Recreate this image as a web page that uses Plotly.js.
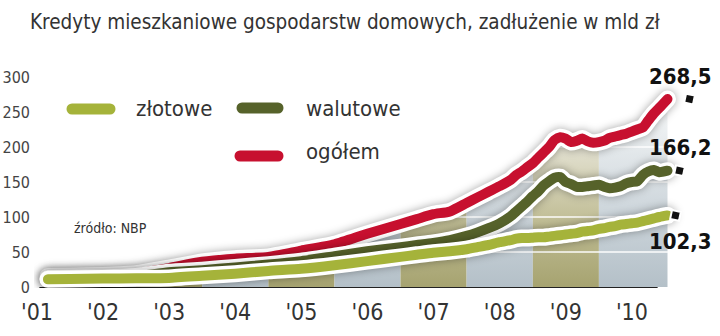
<!DOCTYPE html>
<html><head><meta charset="utf-8">
<script src="https://cdn.plot.ly/plotly-3.0.1.min.js"></script>
<style>
html,body{margin:0;padding:0;background:#fff;}
#chart{width:720px;height:336px;}
svg text{font-stretch:condensed !important;}
.scatterlayer .js-line{stroke-linecap:round;stroke-linejoin:round;}
.shapelayer path{stroke-linecap:round;}
</style></head><body><div id="chart"></div>
<script>
// ---- data ----
const dates = ['2001-09','2002-01','2002-07','2003-01','2003-07','2004-01','2004-07','2005-01','2005-07','2006-01','2006-07','2007-01','2007-04','2007-07','2007-10','2008-01','2008-03','2008-05','2008-07','2008-09','2008-10','2008-11','2008-12','2009-01','2009-02','2009-03','2009-04','2009-05','2009-06','2009-07','2009-08','2009-09','2009-10','2009-11','2009-12','2010-01','2010-02','2010-03','2010-04','2010-05','2010-06','2010-07','2010-08','2010-09','2010-10','2010-11','2010-12','2011-01-15'];
const zlotowe  = [11,11.5,12,12.5,13,16,19,23,26,31,37,43,46,49,51,54,57,60,64,67,69,70,70,70.5,71,71,72,73,74,75,76,77,79,80,81,83,84,86,87,89,90,91,92,94,96,98,100,102.3];
const walutowe = [12,12.5,13,15,21,24,28,32,37,44,51,57,60,63,67,73,78,84,91,101,108,115,122,130,137,145,151,156,157,150,147,143,143,144,145,146,143,141,142,144,148,150,151,160,165,167,164,166.2];
const ogolem   = [15,15.5,16.5,19,27,36,40.5,43,52,61,76,90,97,104,108,120,128,136,144,153,160,165,171,177,185,192,200,210,214,212,207,209,212,208,206,207,209,213,215,217,219,222,225,228,238,248,256,268.5];
const seriesNames = ['złotowe','walutowe','ogółem'];
const years = [2001,2002,2003,2004,2005,2006,2007,2008,2009,2010];
const xTickText = years.map(y => "'" + String(y).slice(2));
const yTickVals = [0,50,100,150,200,250,300];
const titleText = 'Kredyty mieszkaniowe gospodarstw domowych, zadłużenie w mld zł';
const sourceText = 'źródło: NBP';

// ---- styles / geometry ----
const FONT = '"Liberation Sans Narrow", "DejaVu Sans Condensed", "Noto Sans", sans-serif';
const colors = {zl:'#a5b33a', wa:'#56622a', og:'#c7102f'};
const L=34, R=700, T=63, B=288, W=R-L, H=B-T;
const pxPerYear = 66.1, px0 = 37, t0 = 2001.5;
const px2x = p => (p-L)/W;
const py2y = p => (B-p)/H;
function ms(d){ return Date.parse(d.length===7 ? d+'-01T00:00:00Z' : d+'T00:00:00Z'); }
function decToDate(d){ const y=Math.floor(d); const a=Date.UTC(y,0,1), b=Date.UTC(y+1,0,1);
  return new Date(a+(d-y)*(b-a)).toISOString().slice(0,19).replace('T',' '); }
function msToStr(m){ return new Date(m).toISOString().slice(0,19).replace('T',' '); }
const xRange = [decToDate(t0+(L-px0)/pxPerYear), decToDate(t0+(R-px0)/pxPerYear)];
const yRange = [-(288-287)/0.7, 320];

const traces = [];
const olive = [[0,'rgb(166,163,112)'],[0.35,'rgb(193,190,150)'],[0.7,'rgb(224,222,204)'],[1,'rgb(250,250,247)']];
const grey  = [[0,'rgb(180,192,200)'],[0.35,'rgb(202,211,217)'],[0.7,'rgb(226,231,234)'],[1,'rgb(250,251,251)']];
years.forEach((y,k) => {
  const s = ms(`${y}-01`), e = (k===years.length-1) ? ms(dates[dates.length-1]) : ms(`${y+1}-01`);
  const xs=[], ys=[];
  dates.forEach((d,i) => { const m=ms(d); if (m>=s && m<=e) { xs.push(d.length===7?d+'-01':d); ys.push(ogolem[i]); } });
  traces.push({x:xs, y:ys, mode:'lines', line:{width:0}, fill:'tozeroy',
    fillgradient:{type:'vertical', start:0, stop:272, colorscale: (y%2===1)?olive:grey},
    hoverinfo:'skip', showlegend:false});
});
yTickVals.filter(v => v>0 && v<300).forEach(v => {
  traces.push({x:[dates[0], dates[dates.length-1]], y:[v,v], mode:'lines',
    line:{color:'rgba(255,255,255,0.95)', width:1.3}, hoverinfo:'skip', showlegend:false});
});
const series = [[ogolem, colors.og, 'ogółem'], [walutowe, colors.wa, 'walutowe'], [zlotowe, colors.zl, 'złotowe']];
const xd = dates.map(d => d.length===7 ? d+'-01' : d);
series.forEach(([vals, col, nm]) => {
  traces.push({x:xd, y:vals, mode:'lines', line:{color:'#ffffff', width:17, shape:'spline', smoothing:0.6}, hoverinfo:'skip', showlegend:false});
  traces.push({x:xd, y:vals, mode:'lines', line:{color:col, width:10, shape:'spline', smoothing:0.6}, name:nm, showlegend:false});
});
const lastMs = ms(dates[dates.length-1]);
const markerShiftPx = [22, 12, 8];
const lastVals = series.map(s => s[0][s[0].length-1]);
traces.push({x: markerShiftPx.map(p => msToStr(lastMs + p/pxPerYear*365.25*864e5)), y:lastVals, mode:'markers',
  marker:{symbol:'square', size:9, color:'#111', angle:12, line:{color:'#fff', width:2}}, hoverinfo:'skip', showlegend:false});

const annotations = [];
const labelShiftY = [23, 23.5, -26.5];
series.forEach(([vals], i) => {
  const v = vals[vals.length-1];
  annotations.push({x: xd[xd.length-1], y: v, xref:'x', yref:'y', xshift: 13, yshift: labelShiftY[i],
    text: v.toFixed(1).replace('.', ','), showarrow:false, xanchor:'center', yanchor:'middle',
    font:{family:FONT, size:22, weight:700, color:'#111'}});
});
const legendItems = [
  {name: seriesNames[0], col: colors.zl, sx0: 72, sx1: 110, sy: 109, tx: 134, ty: 108},
  {name: seriesNames[1], col: colors.wa, sx0: 242, sx1: 278, sy: 108, tx: 304, ty: 108},
  {name: seriesNames[2], col: colors.og, sx0: 240, sx1: 278, sy: 156, tx: 304, ty: 151}
];
const shapes = [];
legendItems.forEach(it => {
  shapes.push({type:'line', xref:'paper', yref:'paper', x0:px2x(it.sx0), x1:px2x(it.sx1), y0:py2y(it.sy), y1:py2y(it.sy),
    line:{color:it.col, width:11}, layer:'above'});
  annotations.push({xref:'paper', yref:'paper', x:px2x(it.tx), y:py2y(it.ty), xanchor:'left', yanchor:'middle',
    text: it.name, showarrow:false, font:{family:FONT, size:22, weight:400, color:'#333'}});
});
annotations.push({xref:'paper', yref:'paper', x:px2x(72), y:py2y(228), xanchor:'left', yanchor:'middle',
  text: sourceText, showarrow:false, font:{family:FONT, size:14, weight:400, color:'#333'}});
shapes.push({type:'line', xref:'paper', yref:'y', x0:px2x(40), x1:px2x(657), y0:-1.3, y1:-1.3, line:{color:'#222', width:1.6}, layer:'below'});

const layout = {
  width:720, height:336, margin:{l:L, r:720-R, t:T, b:336-B, pad:0},
  paper_bgcolor:'#fff', plot_bgcolor:'rgba(0,0,0,0)',
  title:{text:titleText, xref:'container', yref:'container', x:30/720, xanchor:'left', y:1-22/336, yanchor:'middle',
    font:{family:FONT, size:20.5, weight:400, color:'#333'}},
  xaxis:{type:'date', range:xRange, tickvals: years.map(y => decToDate(y+0.5)), ticktext:xTickText, showgrid:false,
    zeroline:false, showline:false, ticks:'', ticklabelstandoff:8, automargin:false,
    tickfont:{family:FONT, size:23, weight:400, color:'#333'}},
  yaxis:{range:yRange, tickvals:yTickVals, showgrid:false, zeroline:false, showline:false, ticks:'', automargin:false,
    ticklabelstandoff:3, tickfont:{family:FONT, size:16, weight:400, color:'#444'}},
  showlegend:false, shapes, annotations
};
Plotly.newPlot('chart', traces, layout, {staticPlot:true, displayModeBar:false}).then(() => {
  const groups = document.querySelectorAll('.scatterlayer .trace');
  const base = years.length + yTickVals.filter(v => v>0 && v<300).length;
  [0,2,4].forEach(k => { const g = groups[base+k]; if (g) g.style.filter = 'drop-shadow(0px 0px 4px rgba(0,0,0,0.35))'; });
});
</script></body></html>
